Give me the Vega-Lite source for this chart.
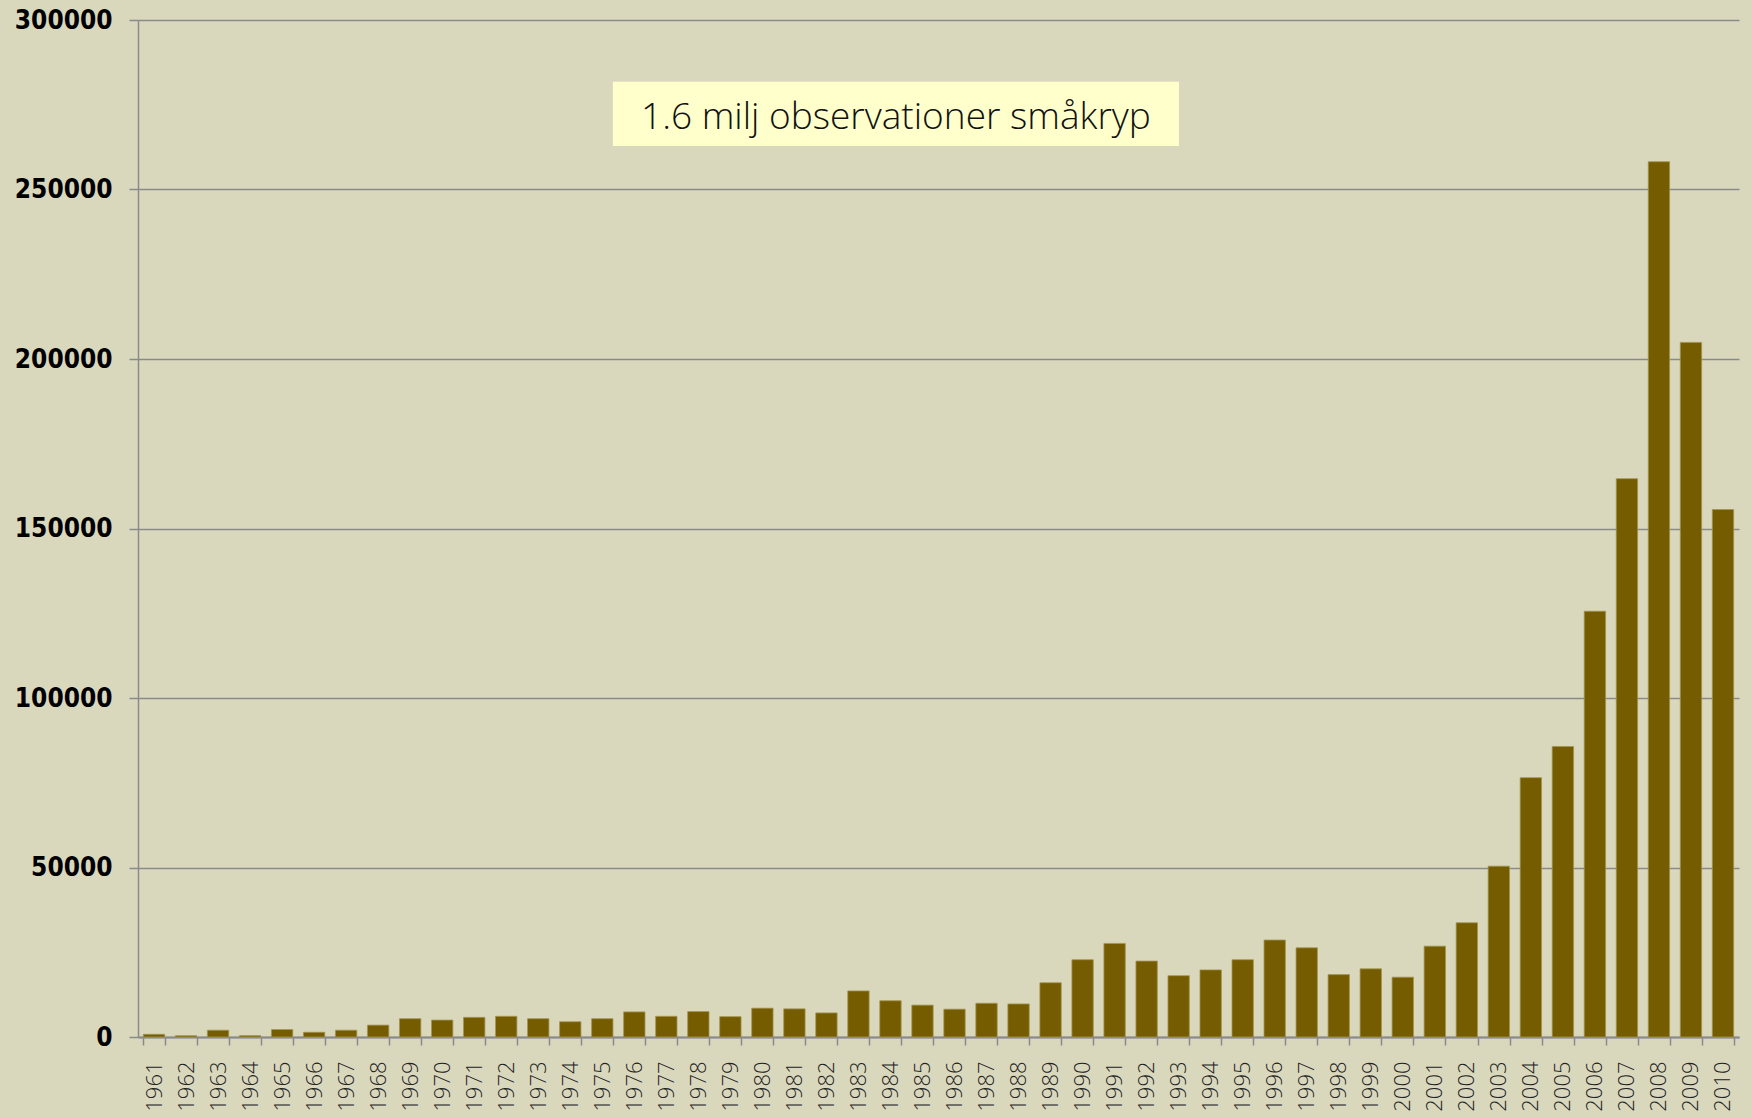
{
  "$schema": "https://vega.github.io/schema/vega-lite/v6.json",
  "width": 1601,
  "height": 1017,
  "autosize": {"type": "none"},
  "padding": {"left": 138, "top": 20, "right": 13, "bottom": 80},
  "background": "#D9D8BD",
  "config": {"view": {"stroke": null}},
  "datasets": {
    "obs": [
      {"year": "1961", "count": 800}, {"year": "1962", "count": 400}, {"year": "1963", "count": 2000},
      {"year": "1964", "count": 400}, {"year": "1965", "count": 2200}, {"year": "1966", "count": 1400},
      {"year": "1967", "count": 2000}, {"year": "1968", "count": 3500}, {"year": "1969", "count": 5400},
      {"year": "1970", "count": 5000}, {"year": "1971", "count": 5800}, {"year": "1972", "count": 6100},
      {"year": "1973", "count": 5400}, {"year": "1974", "count": 4500}, {"year": "1975", "count": 5400},
      {"year": "1976", "count": 7400}, {"year": "1977", "count": 6100}, {"year": "1978", "count": 7500},
      {"year": "1979", "count": 6000}, {"year": "1980", "count": 8500}, {"year": "1981", "count": 8300},
      {"year": "1982", "count": 7100}, {"year": "1983", "count": 13600}, {"year": "1984", "count": 10700},
      {"year": "1985", "count": 9400}, {"year": "1986", "count": 8200}, {"year": "1987", "count": 9950},
      {"year": "1988", "count": 9750}, {"year": "1989", "count": 16000}, {"year": "1990", "count": 22800},
      {"year": "1991", "count": 27600}, {"year": "1992", "count": 22400}, {"year": "1993", "count": 18100},
      {"year": "1994", "count": 19800}, {"year": "1995", "count": 22800}, {"year": "1996", "count": 28600},
      {"year": "1997", "count": 26300}, {"year": "1998", "count": 18400}, {"year": "1999", "count": 20100},
      {"year": "2000", "count": 17650}, {"year": "2001", "count": 26800}, {"year": "2002", "count": 33700},
      {"year": "2003", "count": 50400}, {"year": "2004", "count": 76500}, {"year": "2005", "count": 85700},
      {"year": "2006", "count": 125600}, {"year": "2007", "count": 164700}, {"year": "2008", "count": 258200},
      {"year": "2009", "count": 204900}, {"year": "2010", "count": 155600}
    ],
    "note": [
      {"label": "1.6 milj observationer småkryp", "from": 1975.33, "to": 1993.01, "mid": 1984.17, "low": 262850, "high": 281750, "center": 271000}
    ]
  },
  "layer": [
    {
      "data": {"name": "obs"},
      "mark": {"type": "bar", "color": "#755C00", "stroke": "#A3944F", "strokeWidth": 0.8},
      "encoding": {
        "x": {
          "field": "year", "type": "ordinal",
          "scale": {"paddingInner": 0.333, "paddingOuter": 0.1667},
          "axis": {
            "title": null, "labelAngle": 270, "labelFont": "Open Sans", "labelFontWeight": 300,
            "labelFontSize": 22, "labelColor": "#222222", "labelPadding": 16,
            "tickSize": 8, "tickColor": "#8A8A8A", "tickWidth": 1.5, "tickBand": "extent",
            "domainColor": "#8A8A8A", "domainWidth": 2, "grid": false
          }
        },
        "y": {
          "field": "count", "type": "quantitative",
          "scale": {"domain": [0, 300000], "nice": false},
          "axis": {
            "title": null, "values": [0, 50000, 100000, 150000, 200000, 250000, 300000], "format": "d",
            "labelFont": "DejaVu Sans Condensed, DejaVu Sans", "labelFontWeight": "bold", "labelFontSize": 26, "labelColor": "#000000",
            "labelPadding": 17, "tickSize": 9, "tickColor": "#8A8A8A", "tickWidth": 1.5,
            "domainColor": "#8A8A8A", "domainWidth": 1.5,
            "grid": true, "gridColor": "#8A8A8A", "gridWidth": 1.5
          }
        }
      }
    },
    {
      "data": {"name": "note"},
      "mark": {"type": "rect", "color": "#FFFFCC"},
      "encoding": {
        "x": {"field": "from", "type": "quantitative", "scale": {"domain": [1960.5, 2010.5], "nice": false, "zero": false}, "axis": null},
        "x2": {"field": "to"},
        "y": {"field": "low", "type": "quantitative", "scale": {"domain": [0, 300000], "nice": false}, "title": null},
        "y2": {"field": "high"}
      }
    },
    {
      "data": {"name": "note"},
      "mark": {"type": "text", "font": "Open Sans", "fontWeight": 300, "fontSize": 37, "color": "#111111", "align": "center", "baseline": "middle"},
      "encoding": {
        "x": {"field": "mid", "type": "quantitative", "scale": {"domain": [1960.5, 2010.5], "nice": false, "zero": false}, "axis": null},
        "y": {"field": "center", "type": "quantitative", "scale": {"domain": [0, 300000], "nice": false}, "title": null},
        "text": {"field": "label"}
      }
    }
  ],
  "resolve": {"scale": {"x": "independent"}}
}
